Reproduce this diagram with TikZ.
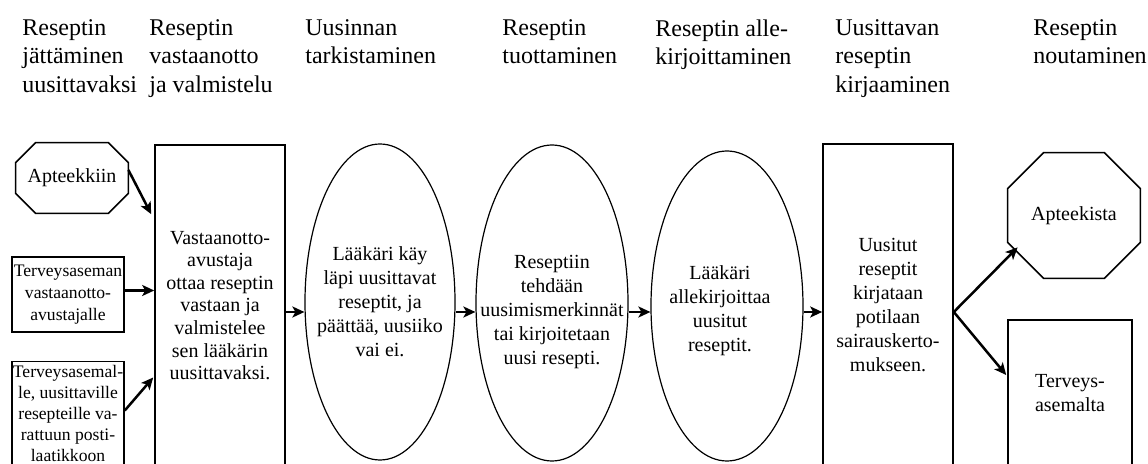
\documentclass[tikz,border=0pt]{standalone}
\usepackage{fontspec}
\setmainfont{Liberation Serif}
\usetikzlibrary{arrows.meta,shapes.geometric}
% octagon drawn over a rectangular node: #1 node name, #2 corner cut
\newcommand\octagonpath[2]{%
  \draw[line width=0.8pt] ([xshift=#2]#1.north west) -- ([xshift=-#2]#1.north east)
    -- ([yshift=-#2]#1.north east) -- ([yshift=#2]#1.south east)
    -- ([xshift=-#2]#1.south east) -- ([xshift=#2]#1.south west)
    -- ([yshift=#2]#1.south west) -- ([yshift=-#2]#1.north west) -- cycle;}
\begin{document}
\begin{tikzpicture}[x=0.5pt,y=-0.5pt,
  hdr/.style={anchor=north west,inner sep=0pt,align=left,font=\fontsize{12pt}{14.2pt}\selectfont},
  box/.style={draw,line width=0.8pt,rectangle,inner sep=0pt,align=center,font=\fontsize{10pt}{12pt}\selectfont},
  octbox/.style={rectangle,inner sep=0pt,align=center,font=\fontsize{10pt}{12pt}\selectfont},
  oval/.style={draw,line width=0.6pt,ellipse,inner sep=0pt},
  txt/.style={inner sep=0pt,align=center,font=\fontsize{10pt}{12pt}\selectfont},
  small/.style={font=\fontsize{8.8pt}{11pt}\selectfont},
  flow/.style={-{Stealth[length=6pt,width=5.5pt,inset=1.5pt]},line width=1.25pt},
]
\clip (0,0) rectangle (1148,464);

% column headings
\node[hdr] (h1) at (22,19)   {Reseptin\\jättäminen\\uusittavaksi};
\node[hdr] (h2) at (149,19)  {Reseptin\\vastaanotto\\ja valmistelu};
\node[hdr] (h3) at (305,19)  {Uusinnan\\tarkistaminen};
\node[hdr] (h4) at (502,19)  {Reseptin\\tuottaminen};
\node[hdr] (h5) at (655,19)  {Reseptin alle-\\kirjoittaminen};
\node[hdr] (h6) at (835,19)  {Uusittavan\\reseptin\\kirjaaminen};
\node[hdr] (h7) at (1033,19) {Reseptin\\noutaminen};

% sources
\node[octbox,minimum width=56pt,minimum height=35pt] (apk) at (72,178) {Apteekkiin};
\octagonpath{apk}{10pt}
\node[box,small,minimum width=56pt,minimum height=37.5pt] (tv1) at (68,294.5)
  {Terveysaseman\\vastaanotto-\\avustajalle};
\node[box,minimum width=56pt,minimum height=57pt] (tv2) at (68,418.5) {};
\node[txt,anchor=north,font=\fontsize{8.8pt}{10.5pt}\selectfont] (tv2t) at (68,365)
  {Terveysasemal-\\le, uusittaville\\resepteille va-\\rattuun posti-\\laatikkoon};

% process steps
\node[box,font=\fontsize{10pt}{11.3pt}\selectfont,minimum width=65pt,minimum height=160.5pt] (b1) at (220,305.5)
  {Vastaanotto-\\avustaja\\ottaa reseptin\\vastaan ja\\valmistelee\\sen lääkärin\\uusittavaksi.};
\node[oval,minimum width=75pt,minimum height=158pt] (e1) at (380,302) {};
\node[txt] (e1t) at (380,302) {Lääkäri käy\\läpi uusittavat\\reseptit, ja\\päättää, uusiiko\\vai ei.};
\node[oval,minimum width=76pt,minimum height=158pt] (e2) at (552,303) {};
\node[txt] (e2t) at (552,312) {Reseptiin\\tehdään\\uusimismerkinnät\\tai kirjoitetaan\\uusi resepti.};
\node[oval,minimum width=76pt,minimum height=155pt] (e3) at (727,306) {};
\node[txt] (e3t) at (720,311) {Lääkäri\\allekirjoittaa\\uusitut\\reseptit.};
\node[box,minimum width=65pt,minimum height=161pt] (b2) at (888,305)
  {Uusitut\\reseptit\\kirjataan\\potilaan\\sairauskerto-\\mukseen.};

% destinations
\node[octbox,minimum width=66pt,minimum height=62.5pt] (apt) at (1074,215.5) {Apteekista};
\octagonpath{apt}{18pt}
\node[box,minimum width=62pt,minimum height=73pt] (tv3) at (1070,393) {Terveys-\\asemalta};

% connectors
\coordinate (row) at (0,312);
\draw[flow] ([yshift=4pt]apk.east) -- ([xshift=-1.5pt,yshift=-35pt]b1.north west);
\draw[flow] ([yshift=2pt]tv1.east) -- ([yshift=2pt]tv1.east -| b1.west);
\draw[flow] ([yshift=4pt]tv2.east) -- ([xshift=-0.5pt,yshift=-36pt]b1.west);
\draw[flow] (b1.east |- row) -- (e1.west |- row);
\draw[flow] (e1.east |- row) -- (e2.west |- row);
\draw[flow] (e2.east |- row) -- (e3.west |- row);
\draw[flow] (e3.east |- row) -- (b2.west |- row);
\draw[flow] (b2.east |- row) -- ([xshift=5pt,yshift=15.5pt]apt.south west);
\draw[flow] (b2.east |- row) -- ([xshift=-0.5pt,yshift=9pt]tv3.west);
\end{tikzpicture}
\end{document}
